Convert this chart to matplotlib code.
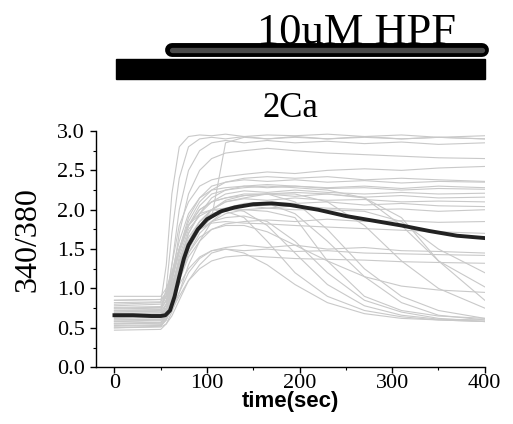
import numpy as np
import matplotlib
matplotlib.use("Agg")
import matplotlib.pyplot as plt
import matplotlib.patheffects as pe
from matplotlib.transforms import blended_transform_factory
from matplotlib.patches import Rectangle

# time grid for the single-cell traces (sec)
t_cell = [0, 50, 56, 62, 70, 80, 92, 105, 120, 140, 165, 195, 230, 270, 310, 350, 400]

# single-cell 340/380 traces
cells = [
    [0.80, 0.82, 1.30, 2.20, 2.80, 2.93, 2.95, 2.94, 2.96, 2.93, 2.95, 2.94, 2.96, 2.93, 2.95, 2.92, 2.94],
    [0.70, 0.72, 1.00, 1.70, 2.40, 2.80, 2.90, 2.92, 2.90, 2.93, 2.90, 2.92, 2.90, 2.93, 2.90, 2.92, 2.90],
    [0.62, 0.63, 0.80, 1.30, 2.00, 2.50, 2.75, 2.85, 2.88, 2.85, 2.88, 2.85, 2.87, 2.84, 2.86, 2.83, 2.85],
    [0.85, 0.86, 0.90, 1.00, 1.20, 1.50, 1.75, 1.90, 2.85, 2.92, 2.90, 2.93, 2.90, 2.92, 2.90, 2.92, 2.90],
    [0.55, 0.56, 0.70, 1.10, 1.70, 2.20, 2.50, 2.65, 2.72, 2.75, 2.78, 2.75, 2.72, 2.70, 2.68, 2.66, 2.65],
    [0.75, 0.76, 0.90, 1.30, 1.80, 2.10, 2.30, 2.38, 2.42, 2.45, 2.48, 2.46, 2.50, 2.52, 2.50, 2.53, 2.55],
    [0.68, 0.69, 0.80, 1.10, 1.50, 1.90, 2.15, 2.30, 2.35, 2.38, 2.36, 2.38, 2.35, 2.37, 2.34, 2.36, 2.35],
    [0.58, 0.60, 0.70, 0.95, 1.30, 1.70, 1.95, 2.15, 2.25, 2.30, 2.28, 2.30, 2.27, 2.28, 2.25, 2.27, 2.26],
    [0.90, 0.90, 1.00, 1.20, 1.50, 1.80, 2.00, 2.10, 2.20, 2.24, 2.22, 2.25, 2.22, 2.20, 2.22, 2.20, 2.21],
    [0.50, 0.52, 0.60, 0.80, 1.10, 1.50, 1.80, 2.00, 2.12, 2.18, 2.20, 2.17, 2.20, 2.16, 2.18, 2.15, 2.16],
    [0.72, 0.73, 0.85, 1.00, 1.30, 1.60, 1.85, 2.00, 2.10, 2.14, 2.12, 2.15, 2.12, 2.13, 2.10, 2.11, 2.10],
    [0.64, 0.65, 0.72, 0.90, 1.20, 1.50, 1.75, 1.92, 2.02, 2.08, 2.10, 2.08, 2.10, 2.06, 2.08, 2.05, 2.04],
    [0.82, 0.83, 0.95, 1.20, 1.60, 1.95, 2.15, 2.25, 2.28, 2.30, 2.32, 2.30, 2.28, 2.30, 2.27, 2.30, 2.28],
    [0.47, 0.48, 0.55, 0.70, 0.95, 1.30, 1.60, 1.85, 2.00, 2.06, 2.02, 2.05, 2.02, 2.00, 2.01, 1.98, 2.00],
    [0.78, 0.80, 0.92, 1.15, 1.50, 1.85, 2.10, 2.25, 2.35, 2.40, 2.42, 2.40, 2.42, 2.38, 2.40, 2.38, 2.36],
    [0.60, 0.61, 0.68, 0.85, 1.10, 1.40, 1.60, 1.75, 1.82, 1.85, 1.87, 1.85, 1.88, 1.85, 1.86, 1.84, 1.85],
    [0.52, 0.53, 0.60, 0.75, 0.95, 1.20, 1.38, 1.48, 1.52, 1.55, 1.52, 1.55, 1.50, 1.52, 1.48, 1.47, 1.45],
    [0.66, 0.67, 0.72, 0.85, 1.05, 1.25, 1.40, 1.48, 1.50, 1.48, 1.50, 1.47, 1.48, 1.45, 1.44, 1.43, 1.42],
    [0.56, 0.57, 0.62, 0.72, 0.90, 1.10, 1.25, 1.35, 1.40, 1.42, 1.40, 1.38, 1.37, 1.36, 1.34, 1.33, 1.32],
    [0.74, 0.75, 0.85, 1.05, 1.35, 1.60, 1.75, 1.83, 1.85, 1.83, 1.82, 1.80, 1.78, 1.76, 1.74, 1.72, 1.70],
    [0.63, 0.64, 0.75, 1.00, 1.40, 1.75, 1.92, 2.00, 2.02, 1.98, 1.80, 1.45, 1.05, 0.78, 0.66, 0.61, 0.60],
    [0.55, 0.56, 0.65, 0.85, 1.20, 1.55, 1.75, 1.85, 1.90, 1.92, 1.85, 1.60, 1.20, 0.85, 0.70, 0.62, 0.58],
    [0.70, 0.71, 0.80, 1.00, 1.35, 1.70, 1.95, 2.10, 2.15, 2.20, 2.20, 2.10, 1.75, 1.25, 0.90, 0.72, 0.62],
    [0.60, 0.61, 0.70, 0.90, 1.25, 1.60, 1.85, 2.00, 2.10, 2.15, 2.20, 2.20, 2.10, 1.80, 1.35, 1.00, 0.75],
    [0.85, 0.86, 0.95, 1.15, 1.50, 1.80, 2.00, 2.10, 2.15, 2.18, 2.20, 2.22, 2.20, 2.15, 1.90, 1.35, 0.85],
    [0.50, 0.51, 0.55, 0.65, 0.85, 1.10, 1.30, 1.45, 1.50, 1.45, 1.30, 1.05, 0.82, 0.68, 0.62, 0.60, 0.58],
    [0.68, 0.69, 0.75, 0.90, 1.15, 1.45, 1.65, 1.75, 1.80, 1.80, 1.72, 1.55, 1.35, 1.15, 1.03, 0.98, 0.95],
    [0.76, 0.77, 0.90, 1.10, 1.45, 1.80, 2.05, 2.20, 2.25, 2.28, 2.30, 2.28, 2.25, 2.15, 1.80, 1.35, 1.02],
    [0.58, 0.59, 0.66, 0.82, 1.10, 1.45, 1.70, 1.85, 1.95, 2.00, 2.02, 2.00, 2.00, 1.98, 1.85, 1.50, 1.20],
    [0.53, 0.54, 0.62, 0.80, 1.15, 1.50, 1.75, 1.90, 2.00, 2.05, 2.08, 1.95, 1.60, 1.15, 0.82, 0.66, 0.60],
    [0.65, 0.66, 0.75, 0.95, 1.30, 1.65, 1.85, 1.95, 2.00, 2.00, 1.98, 1.90, 1.35, 0.90, 0.72, 0.65, 0.62],
    [0.72, 0.73, 0.85, 1.10, 1.50, 1.80, 1.95, 2.00, 1.98, 1.90, 1.60, 1.20, 0.90, 0.72, 0.64, 0.60, 0.58],
]

# mean trace
t_mean = [0, 20, 40, 50, 55, 60, 65, 70, 75, 80, 90, 100, 115, 130, 150, 170, 190,
          220, 250, 280, 310, 340, 370, 400]
mean_ratio = [0.66, 0.66, 0.65, 0.65, 0.66, 0.72, 0.90, 1.15, 1.38, 1.55, 1.75, 1.88,
              1.98, 2.03, 2.07, 2.08, 2.06, 2.00, 1.92, 1.86, 1.80, 1.73, 1.67, 1.64]

# application bars (start, end in sec)
ca_bar = (2, 400)
hpf_bar = (62, 397)

serif = "Liberation Serif"

fig = plt.figure(figsize=(5.13, 4.24), dpi=100)
ax = fig.add_axes([0.187, 0.134, 0.758, 0.557])

for c in cells:
    ax.plot(t_cell, c, color="#c9c9c9", lw=0.8, zorder=1)
ax.plot(t_mean, mean_ratio, color="#222222", lw=2.8, zorder=3)

ax.set_xlim(-20, 400)
ax.set_ylim(0, 3.0)
ax.set_xticks([0, 100, 200, 300, 400])
ax.set_xticks([50, 150, 250, 350], minor=True)
ax.set_yticks(np.arange(0, 3.01, 0.5))
ax.set_yticks(np.arange(0.25, 3.0, 0.5), minor=True)
ax.set_yticklabels(["%.1f" % v for v in np.arange(0, 3.01, 0.5)])
for s in ["top", "right"]:
    ax.spines[s].set_visible(False)
for s in ["left", "bottom"]:
    ax.spines[s].set_linewidth(1.0)
ax.tick_params(which="major", direction="out", length=4, width=1, labelsize=16)
ax.tick_params(axis="x", which="major", pad=1)
ax.tick_params(axis="y", which="major", pad=4)
ax.tick_params(which="minor", direction="out", length=2.5, width=0.8)
for lab in ax.get_xticklabels() + ax.get_yticklabels():
    lab.set_family(serif)

# bars above the plot: x in data, y in figure
trans = blended_transform_factory(ax.transData, fig.transFigure)
ax.add_patch(Rectangle((ca_bar[0], 0.814), ca_bar[1] - ca_bar[0], 0.047,
                       transform=trans, facecolor="black", edgecolor="black",
                       clip_on=False, zorder=5))
ax.plot(hpf_bar, [0.883, 0.883], transform=trans, color="#4a4a4a", lw=3.8,
        solid_capstyle="round", clip_on=False, zorder=6,
        path_effects=[pe.Stroke(linewidth=10, foreground="black", capstyle="round"),
                      pe.Normal()])

# drawn below the axes so the HPF bar covers the bottom of the letters
fig.text(0.694, 0.896, "10uM HPF", family=serif, fontsize=32,
         ha="center", va="baseline", zorder=-1)
fig.text(0.567, 0.724, "2Ca", family=serif, fontsize=25, ha="center", va="baseline")
fig.text(0.055, 0.434, "340/380", family=serif, fontsize=23, rotation=90,
         ha="center", va="center")
fig.text(0.567, 0.052, "time(sec)", family="Liberation Sans", weight="bold",
         fontsize=16, ha="center", va="center")

fig.savefig("out.png", dpi=100)
